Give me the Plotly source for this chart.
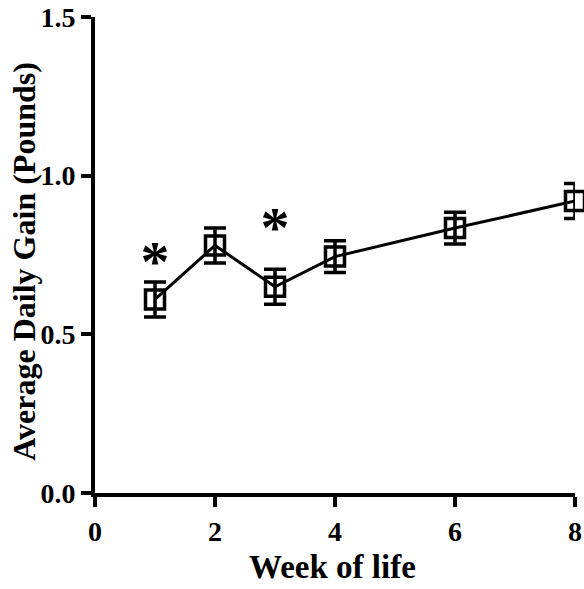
import plotly.graph_objects as go

weeks = [1, 2, 3, 4, 6, 8]
adg = [0.61, 0.78, 0.65, 0.745, 0.835, 0.92]
sem = [0.055, 0.055, 0.055, 0.05, 0.05, 0.055]
sig_weeks = [1, 3]
sig_labels = ["*", "*"]
sig_y = [0.715, 0.82]

x_ticks = [0, 2, 4, 6, 8]
y_ticks = [0.0, 0.5, 1.0, 1.5]

x_title = "Week of life"
y_title = "Average Daily Gain (Pounds)"

font_family = "Liberation Serif, Times New Roman, serif"

fig = go.Figure()
fig.add_trace(go.Scatter(
    x=weeks, y=adg,
    mode="lines+markers",
    line=dict(color="black", width=3),
    marker=dict(symbol="square-open", size=19, color="black", line=dict(width=3.5, color="black")),
    error_y=dict(type="data", array=sem, visible=True, color="black", thickness=3.5, width=11),
    cliponaxis=False,
    showlegend=False,
))
fig.add_trace(go.Scatter(
    x=sig_weeks, y=sig_y,
    mode="text",
    text=["<b>%s</b>" % s for s in sig_labels],
    textfont=dict(family=font_family, size=58, color="black"),
    cliponaxis=False,
    showlegend=False,
))

fig.update_layout(
    width=584, height=589,
    margin=dict(l=95, r=9, t=17, b=96),
    paper_bgcolor="white", plot_bgcolor="white",
    font=dict(family=font_family, color="black"),
    annotations=[
        dict(text="<b>%s</b>" % x_title, xref="paper", yref="paper", x=0.494, y=-0.155,
             xanchor="center", yanchor="middle", showarrow=False,
             font=dict(family=font_family, size=33, color="black")),
        dict(text="<b>%s</b>" % y_title, xref="paper", yref="paper", x=-0.147, y=0.487,
             xanchor="center", yanchor="middle", showarrow=False, textangle=-90,
             font=dict(family=font_family, size=32, color="black")),
    ],
)
fig.update_xaxes(
    range=[0, 8], tickvals=x_ticks, ticktext=["<b>%d</b>" % v for v in x_ticks],
    showgrid=False, zeroline=False, automargin=False,
    showline=True, linecolor="black", linewidth=4,
    ticks="outside", ticklen=10, tickwidth=4, tickcolor="black",
    tickfont=dict(family=font_family, size=28, color="black"),
)
fig.update_yaxes(
    range=[0, 1.5], tickvals=y_ticks, ticktext=["<b>%.1f</b>" % v for v in y_ticks],
    showgrid=False, zeroline=False, automargin=False,
    showline=True, linecolor="black", linewidth=4,
    ticks="outside", ticklen=10, tickwidth=4, tickcolor="black",
    tickfont=dict(family=font_family, size=28, color="black"),
)

fig.write_html("out.html")
